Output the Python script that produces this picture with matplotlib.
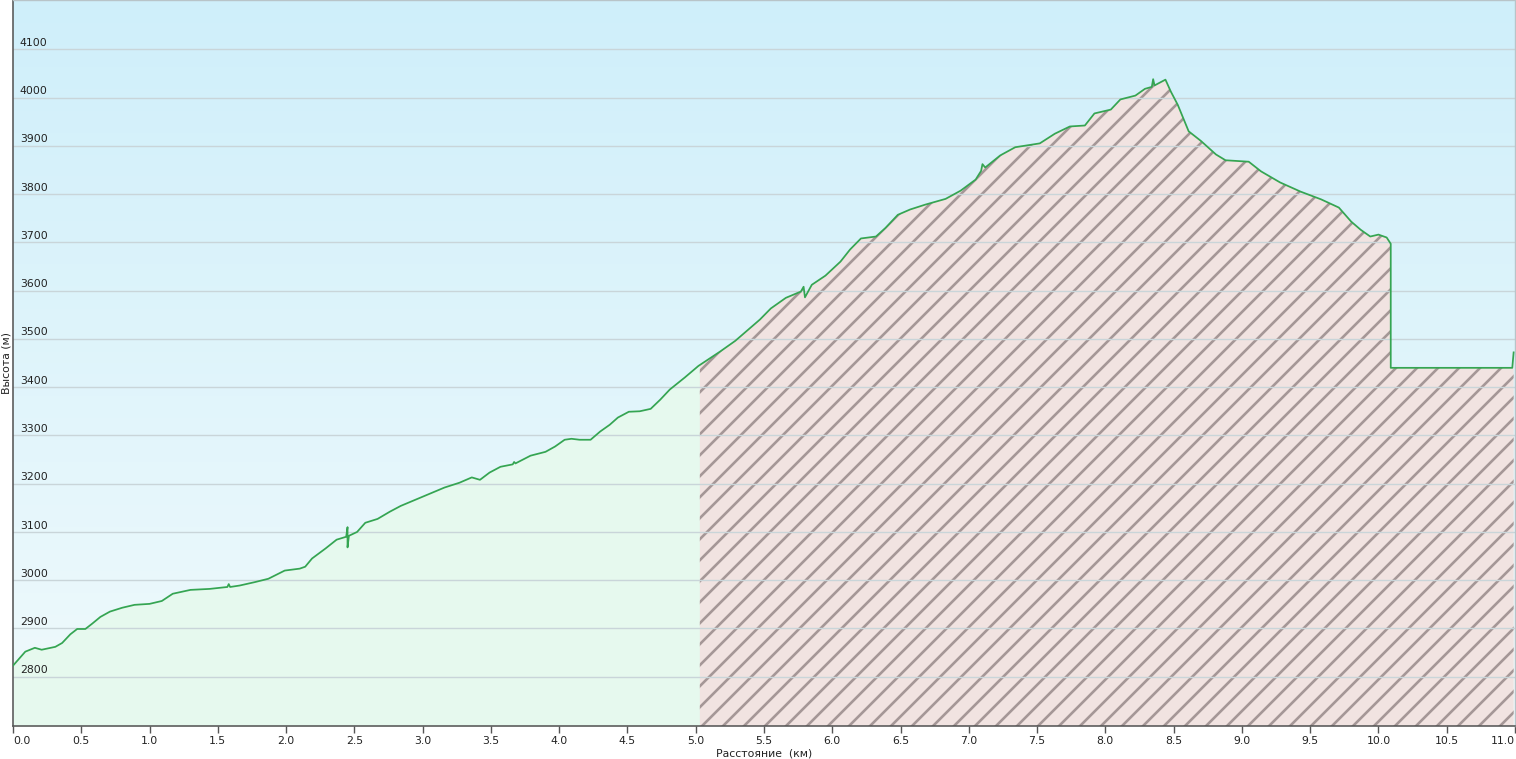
import numpy as np
import matplotlib.pyplot as plt
from matplotlib.colors import LinearSegmentedColormap
from matplotlib.transforms import blended_transform_factory

# elevation profile (km, m)
dist = [0.00, 0.09, 0.16, 0.21, 0.31, 0.36, 0.42, 0.47, 0.53, 0.58,
        0.64, 0.71, 0.80, 0.89, 1.00, 1.09, 1.17, 1.30, 1.44, 1.57,
        1.58, 1.59, 1.66, 1.77, 1.87, 1.99, 2.10, 2.14, 2.19, 2.29,
        2.37, 2.44, 2.45, 2.45, 2.46, 2.52, 2.58, 2.67, 2.76, 2.84,
        2.95, 3.05, 3.16, 3.27, 3.36, 3.42, 3.49, 3.57, 3.66, 3.67,
        3.68, 3.79, 3.90, 3.97, 4.04, 4.09, 4.15, 4.23, 4.30, 4.37,
        4.43, 4.51, 4.59, 4.67, 4.74, 4.81, 4.92, 5.02, 5.11, 5.18,
        5.29, 5.40, 5.47, 5.55, 5.66, 5.77, 5.79, 5.80, 5.85, 5.95,
        6.06, 6.13, 6.21, 6.32, 6.39, 6.48, 6.57, 6.68, 6.83, 6.94,
        7.05, 7.09, 7.10, 7.12, 7.23, 7.34, 7.52, 7.63, 7.74, 7.85,
        7.92, 8.04, 8.11, 8.22, 8.29, 8.34, 8.35, 8.36, 8.44, 8.48,
        8.53, 8.61, 8.70, 8.81, 8.88, 9.05, 9.14, 9.28, 9.43, 9.58,
        9.71, 9.80, 9.87, 9.94, 10.00, 10.06, 10.09, 10.09, 10.98, 10.99]
elev = [2823, 2852, 2860, 2856, 2862, 2870, 2888, 2899, 2899, 2910,
        2924, 2935, 2943, 2949, 2951, 2957, 2972, 2980, 2982, 2986,
        2992, 2986, 2989, 2996, 3003, 3020, 3024, 3028, 3045, 3066,
        3084, 3090, 3110, 3068, 3092, 3100, 3119, 3127, 3142, 3154,
        3167, 3179, 3192, 3202, 3213, 3208, 3223, 3235, 3240, 3245,
        3242, 3258, 3266, 3277, 3291, 3293, 3291, 3291, 3308, 3322,
        3337, 3349, 3350, 3355, 3374, 3395, 3420, 3444, 3461, 3474,
        3496, 3523, 3540, 3563, 3585, 3598, 3608, 3586, 3612, 3631,
        3660, 3685, 3708, 3712, 3730, 3757, 3768, 3778, 3790, 3807,
        3830, 3848, 3862, 3855, 3880, 3897, 3905, 3925, 3940, 3942,
        3967, 3975, 3996, 4004, 4018, 4022, 4038, 4025, 4037, 4012,
        3985, 3930, 3910, 3882, 3870, 3867, 3847, 3824, 3805, 3789,
        3772, 3743, 3726, 3712, 3716, 3710, 3697, 3440, 3440, 3472]

split = 5.03
x_ticks = [0.0, 0.5, 1.0, 1.5, 2.0, 2.5, 3.0, 3.5, 4.0, 4.5, 5.0, 5.5,
           6.0, 6.5, 7.0, 7.5, 8.0, 8.5, 9.0, 9.5, 10.0, 10.5, 11.0]
y_ticks = [2800, 2900, 3000, 3100, 3200, 3300, 3400, 3500, 3600, 3700,
           3800, 3900, 4000, 4100]

plt.rcParams['hatch.linewidth'] = 1.5
plt.rcParams['hatch.color'] = '#a59797'

fig = plt.figure(figsize=(1516 / 126, 759 / 126), dpi=126)
ax = fig.add_axes([13 / 1516, 33 / 759, 1502 / 1516, 726 / 759])
ymin, ymax = 2698, 4202
ax.set_xlim(0, 11.0)
ax.set_ylim(ymin, ymax)

# sky gradient
sky = LinearSegmentedColormap.from_list('sky', ['#f0fafc', '#cfeffa'])
grad = np.linspace(0, 1, 256).reshape(-1, 1)
ax.imshow(grad, cmap=sky, origin='lower', aspect='auto', extent=[0, 1, 0, 1],
          transform=ax.transAxes, zorder=0)

x = np.array(dist)
y = np.array(elev)
ys = np.interp(split, x, y)
m = x < split
ax.fill_between(np.append(x[m], split), np.append(y[m], ys), ymin,
                color='#e6f9ee', lw=0, zorder=1)
ax.fill_between(np.insert(x[~m], 0, split), np.insert(y[~m], 0, ys), ymin,
                facecolor='#f1e3e1', edgecolor='#a59797', hatch='//', lw=0, zorder=1)

for v in y_ticks:
    ax.axhline(v, color='#c9d5d9', lw=0.8, zorder=2)
trans = blended_transform_factory(ax.transAxes, ax.transData)
for v in y_ticks:
    ax.text(0.0045, v + 3, str(v), transform=trans, fontsize=6.2, color='#222222',
            va='bottom', ha='left', zorder=4)

ax.plot(x, y, color='#35a552', lw=1.0, zorder=3)

ax.set_yticks([])
ax.set_xticks(x_ticks)
ax.set_xticklabels(['%.1f' % t for t in x_ticks], fontsize=6.2, color='#222222')
ax.tick_params(axis='x', length=4, width=0.8, color='#555555', pad=2)
labs = ax.get_xticklabels()
labs[0].set_horizontalalignment('left')
labs[-1].set_horizontalalignment('right')
ax.set_xlabel('Расстояние  (км)', fontsize=6.2, color='#222222', labelpad=1)
ax.set_ylabel('Высота (м)', fontsize=6.2, color='#222222', labelpad=1)

for s in ['left', 'bottom']:
    ax.spines[s].set_color('#555555')
    ax.spines[s].set_linewidth(0.9)
for s in ['top', 'right']:
    ax.spines[s].set_color('#b8c4c8')
    ax.spines[s].set_linewidth(0.8)

fig.savefig('out.png', dpi=126, facecolor='white')
